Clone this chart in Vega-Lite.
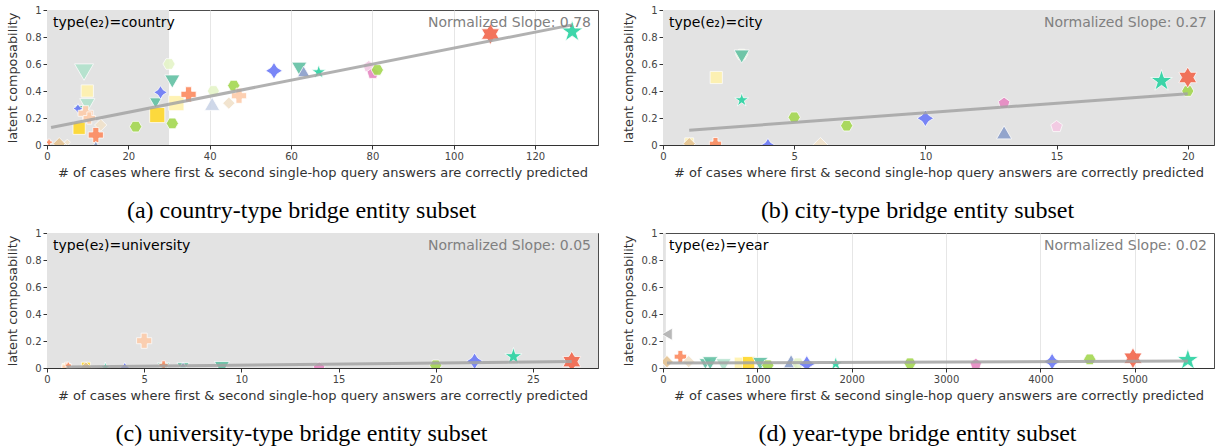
{
  "$schema": "https://vega.github.io/schema/vega-lite/v6.json",
  "padding": {"left": 5, "top": 4, "right": 2, "bottom": 0},
  "background": "white",
  "config": {
    "font": "DejaVu Sans",
    "view": {"stroke": "#4d4d4d", "strokeWidth": 1},
    "axis": {
      "labelFont": "DejaVu Sans", "labelFontSize": 10, "labelColor": "#444444",
      "titleFont": "DejaVu Sans", "titleFontSize": 13, "titleFontWeight": "normal", "titleColor": "#333333",
      "domainColor": "#333333", "tickColor": "#333333", "tickSize": 4, "labelPadding": 2,
      "gridColor": "#e6e6e6", "gridWidth": 1, "labelFlush": false, "labelOverlap": false
    },
    "axisX": {"titlePadding": 5},
    "axisY": {"titlePadding": 6, "titleFontSize": 12.8},
    "title": {"font": "Liberation Serif", "fontSize": 24, "fontWeight": "normal", "color": "#000000", "orient": "bottom", "anchor": "middle", "dx": -21, "offset": 20}
  },
  "datasets": {
    "pts": [
      {"panel": "a", "x": 0.5, "y": 0.02, "fam": "plus", "tier": 1},
      {"panel": "a", "x": 3, "y": 0.01, "fam": "dia", "tier": 3},
      {"panel": "a", "x": 5, "y": 0.02, "fam": "diaP", "tier": 1},
      {"panel": "a", "x": 9.1, "y": 0.54, "fam": "tdnP", "tier": 5},
      {"panel": "a", "x": 9.9, "y": 0.40, "fam": "sqP", "tier": 3},
      {"panel": "a", "x": 9.9, "y": 0.295, "fam": "tdnP", "tier": 4},
      {"panel": "a", "x": 7.9, "y": 0.264, "fam": "tdn", "tier": 2},
      {"panel": "a", "x": 7.6, "y": 0.27, "fam": "bstar", "tier": 2},
      {"panel": "a", "x": 9.5, "y": 0.235, "fam": "plusP", "tier": 4},
      {"panel": "a", "x": 10.4, "y": 0.2, "fam": "plusP", "tier": 3},
      {"panel": "a", "x": 13.2, "y": 0.148, "fam": "diaP", "tier": 3},
      {"panel": "a", "x": 7.9, "y": 0.124, "fam": "sq", "tier": 3},
      {"panel": "a", "x": 12, "y": 0.074, "fam": "plus", "tier": 4},
      {"panel": "a", "x": 12, "y": 0.0, "fam": "tup", "tier": 2},
      {"panel": "a", "x": 21.8, "y": 0.136, "fam": "hex", "tier": 3},
      {"panel": "a", "x": 26.7, "y": 0.31, "fam": "tdn", "tier": 3},
      {"panel": "a", "x": 27.1, "y": 0.222, "fam": "sq", "tier": 4},
      {"panel": "a", "x": 27.9, "y": 0.39, "fam": "bstar", "tier": 3},
      {"panel": "a", "x": 30, "y": 0.6, "fam": "hexP", "tier": 3},
      {"panel": "a", "x": 30.8, "y": 0.47, "fam": "tdn", "tier": 4},
      {"panel": "a", "x": 30.8, "y": 0.16, "fam": "hex", "tier": 3},
      {"panel": "a", "x": 31.8, "y": 0.31, "fam": "sqP", "tier": 4},
      {"panel": "a", "x": 34.8, "y": 0.375, "fam": "plus", "tier": 4},
      {"panel": "a", "x": 40.9, "y": 0.40, "fam": "hexP", "tier": 3},
      {"panel": "a", "x": 40.6, "y": 0.305, "fam": "tupP", "tier": 4},
      {"panel": "a", "x": 45.9, "y": 0.44, "fam": "hex", "tier": 3},
      {"panel": "a", "x": 44.7, "y": 0.31, "fam": "diaP", "tier": 3},
      {"panel": "a", "x": 47.2, "y": 0.365, "fam": "plusP", "tier": 4},
      {"panel": "a", "x": 55.8, "y": 0.55, "fam": "bstar", "tier": 4},
      {"panel": "a", "x": 62, "y": 0.565, "fam": "tdn", "tier": 4},
      {"panel": "a", "x": 63.1, "y": 0.545, "fam": "tup", "tier": 3},
      {"panel": "a", "x": 66.8, "y": 0.54, "fam": "tstar", "tier": 3},
      {"panel": "a", "x": 79.1, "y": 0.58, "fam": "pentP", "tier": 3},
      {"panel": "a", "x": 80.1, "y": 0.53, "fam": "pent", "tier": 3},
      {"panel": "a", "x": 81.2, "y": 0.556, "fam": "hex", "tier": 3},
      {"panel": "a", "x": 109, "y": 0.822, "fam": "rstar", "tier": 5},
      {"panel": "a", "x": 129.1, "y": 0.84, "fam": "tstar", "tier": 5},

      {"panel": "b", "x": 1, "y": 0.02, "fam": "sqP", "tier": 2},
      {"panel": "b", "x": 1, "y": 0.01, "fam": "dia", "tier": 3},
      {"panel": "b", "x": 2, "y": 0.0, "fam": "tdnP", "tier": 2},
      {"panel": "b", "x": 2, "y": 0.01, "fam": "plus", "tier": 3},
      {"panel": "b", "x": 3, "y": 0.67, "fam": "hexP", "tier": 3},
      {"panel": "b", "x": 3, "y": 0.655, "fam": "tdn", "tier": 4},
      {"panel": "b", "x": 2.03, "y": 0.50, "fam": "sqP", "tier": 3},
      {"panel": "b", "x": 3, "y": 0.333, "fam": "tstar", "tier": 3},
      {"panel": "b", "x": 4, "y": 0.0, "fam": "bstar", "tier": 3},
      {"panel": "b", "x": 5, "y": 0.205, "fam": "hex", "tier": 3},
      {"panel": "b", "x": 6, "y": 0.0, "fam": "diaP", "tier": 4},
      {"panel": "b", "x": 7, "y": 0.143, "fam": "hex", "tier": 3},
      {"panel": "b", "x": 10, "y": 0.198, "fam": "bstar", "tier": 4},
      {"panel": "b", "x": 13, "y": 0.309, "fam": "pent", "tier": 3},
      {"panel": "b", "x": 13, "y": 0.094, "fam": "tup", "tier": 4},
      {"panel": "b", "x": 15, "y": 0.136, "fam": "pentP", "tier": 3},
      {"panel": "b", "x": 19, "y": 0.474, "fam": "tstar", "tier": 5},
      {"panel": "b", "x": 20, "y": 0.40, "fam": "hex", "tier": 3},
      {"panel": "b", "x": 20, "y": 0.50, "fam": "rstar", "tier": 5},

      {"panel": "c", "x": 1, "y": 0.0, "fam": "sqP", "tier": 2},
      {"panel": "c", "x": 1, "y": 0.01, "fam": "plusP", "tier": 2},
      {"panel": "c", "x": 1.1, "y": 0.02, "fam": "plus", "tier": 1},
      {"panel": "c", "x": 2, "y": 0.01, "fam": "sq", "tier": 2},
      {"panel": "c", "x": 2, "y": 0.0, "fam": "dia", "tier": 3},
      {"panel": "c", "x": 3, "y": 0.005, "fam": "tstar", "tier": 2},
      {"panel": "c", "x": 4, "y": 0.005, "fam": "bstar", "tier": 2},
      {"panel": "c", "x": 5, "y": 0.202, "fam": "plusP", "tier": 4},
      {"panel": "c", "x": 6, "y": 0.0, "fam": "tdn", "tier": 3},
      {"panel": "c", "x": 6, "y": 0.02, "fam": "plus", "tier": 2},
      {"panel": "c", "x": 7, "y": 0.0, "fam": "tdn", "tier": 3},
      {"panel": "c", "x": 7, "y": 0.025, "fam": "tup", "tier": 1},
      {"panel": "c", "x": 9, "y": 0.0, "fam": "tdn", "tier": 4},
      {"panel": "c", "x": 14, "y": 0.0, "fam": "pent", "tier": 3},
      {"panel": "c", "x": 20, "y": 0.02, "fam": "hex", "tier": 3},
      {"panel": "c", "x": 22, "y": 0.05, "fam": "bstar", "tier": 4},
      {"panel": "c", "x": 24, "y": 0.085, "fam": "tstar", "tier": 4},
      {"panel": "c", "x": 27, "y": 0.047, "fam": "rstar", "tier": 5},

      {"panel": "d", "x": 42, "y": 0.25, "fam": "gray", "tier": 3},
      {"panel": "d", "x": 42, "y": 0.047, "fam": "dia", "tier": 3},
      {"panel": "d", "x": 184, "y": 0.084, "fam": "plus", "tier": 3},
      {"panel": "d", "x": 272, "y": 0.047, "fam": "diaP", "tier": 3},
      {"panel": "d", "x": 449, "y": 0.03, "fam": "tdn", "tier": 3},
      {"panel": "d", "x": 500, "y": 0.035, "fam": "tdn", "tier": 4},
      {"panel": "d", "x": 642, "y": 0.02, "fam": "tdnP", "tier": 4},
      {"panel": "d", "x": 820, "y": 0.035, "fam": "sqP", "tier": 3},
      {"panel": "d", "x": 907, "y": 0.04, "fam": "sq", "tier": 3},
      {"panel": "d", "x": 1031, "y": 0.03, "fam": "tdn", "tier": 4},
      {"panel": "d", "x": 1111, "y": 0.02, "fam": "hex", "tier": 3},
      {"panel": "d", "x": 1358, "y": 0.05, "fam": "tup", "tier": 4},
      {"panel": "d", "x": 1430, "y": 0.035, "fam": "hexP", "tier": 3},
      {"panel": "d", "x": 1524, "y": 0.03, "fam": "bstar", "tier": 4},
      {"panel": "d", "x": 1831, "y": 0.03, "fam": "tstar", "tier": 3},
      {"panel": "d", "x": 2618, "y": 0.035, "fam": "hex", "tier": 3},
      {"panel": "d", "x": 3316, "y": 0.027, "fam": "pent", "tier": 3},
      {"panel": "d", "x": 4124, "y": 0.047, "fam": "bstar", "tier": 4},
      {"panel": "d", "x": 4523, "y": 0.064, "fam": "hex", "tier": 3},
      {"panel": "d", "x": 4981, "y": 0.072, "fam": "rstar", "tier": 5},
      {"panel": "d", "x": 5563, "y": 0.059, "fam": "tstar", "tier": 5}
    ],
    "fit": [
      {"panel": "a", "x": 1, "y": 0.13},
      {"panel": "a", "x": 129.1, "y": 0.89},
      {"panel": "b", "x": 1, "y": 0.11},
      {"panel": "b", "x": 20, "y": 0.38},
      {"panel": "c", "x": 1, "y": 0.008},
      {"panel": "c", "x": 27, "y": 0.048},
      {"panel": "d", "x": 42, "y": 0.037},
      {"panel": "d", "x": 5563, "y": 0.052}
    ],
    "shade": [{"x": 0, "x2": 30}],
    "labels": [
      {"panel": "a", "left": "type(e₂)=country", "right": "Normalized Slope: 0.78"},
      {"panel": "b", "left": "type(e₂)=city", "right": "Normalized Slope: 0.27"},
      {"panel": "c", "left": "type(e₂)=university", "right": "Normalized Slope: 0.05"},
      {"panel": "d", "left": "type(e₂)=year", "right": "Normalized Slope: 0.02"}
    ]
  },
  "columns": 2,
  "bounds": "flush",
  "spacing": {"row": 88, "column": 65},
  "concat": [
    {
      "width": 551, "height": 135,
      "title": {"text": "(a) country-type bridge entity subset"},
      "layer": [
        {"data": {"name": "shade"}, "mark": {"type": "rect", "color": "#e3e3e3", "clip": true},
         "encoding": {
           "x": {"field": "x", "type": "quantitative", "scale": {"domain": [0, 135.45], "nice": false, "zero": false}, "axis": {"title": "# of cases where first & second single-hop query answers are correctly predicted", "values": [0, 20, 40, 60, 80, 100, 120], "format": "d", "labelOverlap": false}},
           "x2": {"field": "x2"},
           "y": {"datum": 0, "type": "quantitative", "scale": {"domain": [0, 1], "nice": false}, "axis": {"title": "latent composability", "values": [0, 0.2, 0.4, 0.6, 0.8, 1], "format": "~g", "labelOverlap": false, "tickCount": 6}},
           "y2": {"datum": 1}
         }},
        {"data": {"name": "pts"}, "transform": [{"filter": "datum.panel === 'a'"}],
         "mark": {"type": "point", "filled": true, "stroke": "white", "strokeWidth": 0.8, "opacity": 0.92, "clip": true},
         "encoding": {
           "x": {"field": "x", "type": "quantitative", "scale": {"domain": [0, 135.45], "nice": false, "zero": false}, "axis": {"title": "# of cases where first & second single-hop query answers are correctly predicted", "values": [0, 20, 40, 60, 80, 100, 120], "format": "d", "labelOverlap": false}},
           "y": {"field": "y", "type": "quantitative", "scale": {"domain": [0, 1], "nice": false}, "axis": {"title": "latent composability", "values": [0, 0.2, 0.4, 0.6, 0.8, 1], "format": "~g", "labelOverlap": false, "tickCount": 6}},
           "color": {"field": "fam", "type": "nominal", "legend": null, "scale": {"domain": ["tstar","rstar","bstar","hex","hexP","tdn","tdnP","plus","plusP","tup","tupP","pent","pentP","sq","sqP","dia","diaP","gray"], "range": ["#2ed3a3","#f2694f","#6e7cf7","#a6d854","#e6f5c9","#66c2a5","#b3e2cd","#fc8d62","#fdcdac","#8da0cb","#cbd5e8","#e78ac3","#f4cae4","#ffd92f","#fff2ae","#e5c494","#f1e2cc","#b3b3b3"]}},
           "shape": {"field": "fam", "type": "nominal", "legend": null, "scale": {"domain": ["tstar","rstar","bstar","hex","hexP","tdn","tdnP","plus","plusP","tup","tupP","pent","pentP","sq","sqP","dia","diaP","gray"], "range": ["M0,-1.2L0.2694,-0.3708L1.1412,-0.3708L0.4356,0.1416L0.7056,0.9708L0,0.4584L-0.7056,0.9708L-0.4356,0.1416L-1.1412,-0.3708L-0.2694,-0.3708Z","M0,-1.1L0.3176,-0.55L0.9526,-0.55L0.6347,0L0.9526,0.55L0.3176,0.55L0,1.1L-0.3176,0.55L-0.9526,0.55L-0.6347,0L-0.9526,-0.55L-0.3176,-0.55Z","M0,-1.1L0.42,-0.42L1.1,0L0.42,0.42L0,1.1L-0.42,0.42L-1.1,0L-0.42,-0.42Z","M-1,0L-0.5,-0.866L0.5,-0.866L1,0L0.5,0.866L-0.5,0.866Z","M-1,0L-0.5,-0.866L0.5,-0.866L1,0L0.5,0.866L-0.5,0.866Z","triangle-down","triangle-down","cross","cross","triangle-up","triangle-up","M0,-1L0.951,-0.309L0.588,0.809L-0.588,0.809L-0.951,-0.309Z","M0,-1L0.951,-0.309L0.588,0.809L-0.588,0.809L-0.951,-0.309Z","square","square","diamond","diamond","triangle-left"]}},
           "size": {"field": "tier", "type": "quantitative", "legend": null, "scale": {"type": "linear", "domain": [1, 2, 3, 4, 5], "range": [40, 80, 150, 230, 360], "zero": false, "nice": false}}
         }},
        {"data": {"name": "fit"}, "transform": [{"filter": "datum.panel === 'a'"}], "mark": {"type": "line", "color": "#a3a3a3", "strokeWidth": 3, "opacity": 0.85},
         "encoding": {
           "x": {"field": "x", "type": "quantitative", "scale": {"domain": [0, 135.45], "nice": false, "zero": false}, "axis": {"title": "# of cases where first & second single-hop query answers are correctly predicted", "values": [0, 20, 40, 60, 80, 100, 120], "format": "d", "labelOverlap": false}},
           "y": {"field": "y", "type": "quantitative", "scale": {"domain": [0, 1], "nice": false}, "axis": {"title": "latent composability", "values": [0, 0.2, 0.4, 0.6, 0.8, 1], "format": "~g", "labelOverlap": false, "tickCount": 6}}
         }},
        {"data": {"name": "labels"}, "transform": [{"filter": "datum.panel === 'a'"}], "mark": {"type": "text", "align": "left", "baseline": "top", "dx": 6, "dy": 6, "fontSize": 14, "color": "#000000"},
         "encoding": {"x": {"datum": 0, "type": "quantitative", "axis": {"title": "# of cases where first & second single-hop query answers are correctly predicted", "values": [0, 20, 40, 60, 80, 100, 120], "format": "d", "labelOverlap": false}}, "y": {"datum": 1, "type": "quantitative", "axis": {"title": "latent composability", "values": [0, 0.2, 0.4, 0.6, 0.8, 1], "format": "~g", "labelOverlap": false, "tickCount": 6}}, "text": {"field": "left"}}},
        {"data": {"name": "labels"}, "transform": [{"filter": "datum.panel === 'a'"}], "mark": {"type": "text", "align": "right", "baseline": "top", "dx": -7, "dy": 6, "fontSize": 14, "color": "#808080"},
         "encoding": {"x": {"datum": 135.45, "type": "quantitative", "axis": {"title": "# of cases where first & second single-hop query answers are correctly predicted", "values": [0, 20, 40, 60, 80, 100, 120], "format": "d", "labelOverlap": false}}, "y": {"datum": 1, "type": "quantitative", "axis": {"title": "latent composability", "values": [0, 0.2, 0.4, 0.6, 0.8, 1], "format": "~g", "labelOverlap": false, "tickCount": 6}}, "text": {"field": "right"}}}
      ]
    },
    {
      "width": 551, "height": 135,
      "title": {"text": "(b) city-type bridge entity subset"},
      "layer": [
        {"data": {"name": "shade"}, "mark": {"type": "rect", "color": "#e3e3e3", "clip": true},
         "encoding": {
           "x": {"field": "x", "type": "quantitative", "scale": {"domain": [0, 21], "nice": false, "zero": false}, "axis": {"title": "# of cases where first & second single-hop query answers are correctly predicted", "values": [0, 5, 10, 15, 20], "format": "d", "labelOverlap": false}},
           "x2": {"field": "x2"},
           "y": {"datum": 0, "type": "quantitative", "scale": {"domain": [0, 1], "nice": false}, "axis": {"title": "latent composability", "values": [0, 0.2, 0.4, 0.6, 0.8, 1], "format": "~g", "labelOverlap": false, "tickCount": 6}},
           "y2": {"datum": 1}
         }},
        {"data": {"name": "pts"}, "transform": [{"filter": "datum.panel === 'b'"}],
         "mark": {"type": "point", "filled": true, "stroke": "white", "strokeWidth": 0.8, "opacity": 0.92, "clip": true},
         "encoding": {
           "x": {"field": "x", "type": "quantitative", "scale": {"domain": [0, 21], "nice": false, "zero": false}, "axis": {"title": "# of cases where first & second single-hop query answers are correctly predicted", "values": [0, 5, 10, 15, 20], "format": "d", "labelOverlap": false}},
           "y": {"field": "y", "type": "quantitative", "scale": {"domain": [0, 1], "nice": false}, "axis": {"title": "latent composability", "values": [0, 0.2, 0.4, 0.6, 0.8, 1], "format": "~g", "labelOverlap": false, "tickCount": 6}},
           "color": {"field": "fam", "type": "nominal", "legend": null, "scale": {"domain": ["tstar","rstar","bstar","hex","hexP","tdn","tdnP","plus","plusP","tup","tupP","pent","pentP","sq","sqP","dia","diaP","gray"], "range": ["#2ed3a3","#f2694f","#6e7cf7","#a6d854","#e6f5c9","#66c2a5","#b3e2cd","#fc8d62","#fdcdac","#8da0cb","#cbd5e8","#e78ac3","#f4cae4","#ffd92f","#fff2ae","#e5c494","#f1e2cc","#b3b3b3"]}},
           "shape": {"field": "fam", "type": "nominal", "legend": null, "scale": {"domain": ["tstar","rstar","bstar","hex","hexP","tdn","tdnP","plus","plusP","tup","tupP","pent","pentP","sq","sqP","dia","diaP","gray"], "range": ["M0,-1.2L0.2694,-0.3708L1.1412,-0.3708L0.4356,0.1416L0.7056,0.9708L0,0.4584L-0.7056,0.9708L-0.4356,0.1416L-1.1412,-0.3708L-0.2694,-0.3708Z","M0,-1.1L0.3176,-0.55L0.9526,-0.55L0.6347,0L0.9526,0.55L0.3176,0.55L0,1.1L-0.3176,0.55L-0.9526,0.55L-0.6347,0L-0.9526,-0.55L-0.3176,-0.55Z","M0,-1.1L0.42,-0.42L1.1,0L0.42,0.42L0,1.1L-0.42,0.42L-1.1,0L-0.42,-0.42Z","M-1,0L-0.5,-0.866L0.5,-0.866L1,0L0.5,0.866L-0.5,0.866Z","M-1,0L-0.5,-0.866L0.5,-0.866L1,0L0.5,0.866L-0.5,0.866Z","triangle-down","triangle-down","cross","cross","triangle-up","triangle-up","M0,-1L0.951,-0.309L0.588,0.809L-0.588,0.809L-0.951,-0.309Z","M0,-1L0.951,-0.309L0.588,0.809L-0.588,0.809L-0.951,-0.309Z","square","square","diamond","diamond","triangle-left"]}},
           "size": {"field": "tier", "type": "quantitative", "legend": null, "scale": {"type": "linear", "domain": [1, 2, 3, 4, 5], "range": [40, 80, 150, 230, 360], "zero": false, "nice": false}}
         }},
        {"data": {"name": "fit"}, "transform": [{"filter": "datum.panel === 'b'"}], "mark": {"type": "line", "color": "#a3a3a3", "strokeWidth": 3, "opacity": 0.85},
         "encoding": {
           "x": {"field": "x", "type": "quantitative", "scale": {"domain": [0, 21], "nice": false, "zero": false}, "axis": {"title": "# of cases where first & second single-hop query answers are correctly predicted", "values": [0, 5, 10, 15, 20], "format": "d", "labelOverlap": false}},
           "y": {"field": "y", "type": "quantitative", "scale": {"domain": [0, 1], "nice": false}, "axis": {"title": "latent composability", "values": [0, 0.2, 0.4, 0.6, 0.8, 1], "format": "~g", "labelOverlap": false, "tickCount": 6}}
         }},
        {"data": {"name": "labels"}, "transform": [{"filter": "datum.panel === 'b'"}], "mark": {"type": "text", "align": "left", "baseline": "top", "dx": 6, "dy": 6, "fontSize": 14, "color": "#000000"},
         "encoding": {"x": {"datum": 0, "type": "quantitative", "axis": {"title": "# of cases where first & second single-hop query answers are correctly predicted", "values": [0, 5, 10, 15, 20], "format": "d", "labelOverlap": false}}, "y": {"datum": 1, "type": "quantitative", "axis": {"title": "latent composability", "values": [0, 0.2, 0.4, 0.6, 0.8, 1], "format": "~g", "labelOverlap": false, "tickCount": 6}}, "text": {"field": "left"}}},
        {"data": {"name": "labels"}, "transform": [{"filter": "datum.panel === 'b'"}], "mark": {"type": "text", "align": "right", "baseline": "top", "dx": -7, "dy": 6, "fontSize": 14, "color": "#808080"},
         "encoding": {"x": {"datum": 21, "type": "quantitative", "axis": {"title": "# of cases where first & second single-hop query answers are correctly predicted", "values": [0, 5, 10, 15, 20], "format": "d", "labelOverlap": false}}, "y": {"datum": 1, "type": "quantitative", "axis": {"title": "latent composability", "values": [0, 0.2, 0.4, 0.6, 0.8, 1], "format": "~g", "labelOverlap": false, "tickCount": 6}}, "text": {"field": "right"}}}
      ]
    },
    {
      "width": 551, "height": 135,
      "title": {"text": "(c) university-type bridge entity subset"},
      "layer": [
        {"data": {"name": "shade"}, "mark": {"type": "rect", "color": "#e3e3e3", "clip": true},
         "encoding": {
           "x": {"field": "x", "type": "quantitative", "scale": {"domain": [0, 28.35], "nice": false, "zero": false}, "axis": {"title": "# of cases where first & second single-hop query answers are correctly predicted", "values": [0, 5, 10, 15, 20, 25], "format": "d", "labelOverlap": false}},
           "x2": {"field": "x2"},
           "y": {"datum": 0, "type": "quantitative", "scale": {"domain": [0, 1], "nice": false}, "axis": {"title": "latent composability", "values": [0, 0.2, 0.4, 0.6, 0.8, 1], "format": "~g", "labelOverlap": false, "tickCount": 6}},
           "y2": {"datum": 1}
         }},
        {"data": {"name": "pts"}, "transform": [{"filter": "datum.panel === 'c'"}],
         "mark": {"type": "point", "filled": true, "stroke": "white", "strokeWidth": 0.8, "opacity": 0.92, "clip": true},
         "encoding": {
           "x": {"field": "x", "type": "quantitative", "scale": {"domain": [0, 28.35], "nice": false, "zero": false}, "axis": {"title": "# of cases where first & second single-hop query answers are correctly predicted", "values": [0, 5, 10, 15, 20, 25], "format": "d", "labelOverlap": false}},
           "y": {"field": "y", "type": "quantitative", "scale": {"domain": [0, 1], "nice": false}, "axis": {"title": "latent composability", "values": [0, 0.2, 0.4, 0.6, 0.8, 1], "format": "~g", "labelOverlap": false, "tickCount": 6}},
           "color": {"field": "fam", "type": "nominal", "legend": null, "scale": {"domain": ["tstar","rstar","bstar","hex","hexP","tdn","tdnP","plus","plusP","tup","tupP","pent","pentP","sq","sqP","dia","diaP","gray"], "range": ["#2ed3a3","#f2694f","#6e7cf7","#a6d854","#e6f5c9","#66c2a5","#b3e2cd","#fc8d62","#fdcdac","#8da0cb","#cbd5e8","#e78ac3","#f4cae4","#ffd92f","#fff2ae","#e5c494","#f1e2cc","#b3b3b3"]}},
           "shape": {"field": "fam", "type": "nominal", "legend": null, "scale": {"domain": ["tstar","rstar","bstar","hex","hexP","tdn","tdnP","plus","plusP","tup","tupP","pent","pentP","sq","sqP","dia","diaP","gray"], "range": ["M0,-1.2L0.2694,-0.3708L1.1412,-0.3708L0.4356,0.1416L0.7056,0.9708L0,0.4584L-0.7056,0.9708L-0.4356,0.1416L-1.1412,-0.3708L-0.2694,-0.3708Z","M0,-1.1L0.3176,-0.55L0.9526,-0.55L0.6347,0L0.9526,0.55L0.3176,0.55L0,1.1L-0.3176,0.55L-0.9526,0.55L-0.6347,0L-0.9526,-0.55L-0.3176,-0.55Z","M0,-1.1L0.42,-0.42L1.1,0L0.42,0.42L0,1.1L-0.42,0.42L-1.1,0L-0.42,-0.42Z","M-1,0L-0.5,-0.866L0.5,-0.866L1,0L0.5,0.866L-0.5,0.866Z","M-1,0L-0.5,-0.866L0.5,-0.866L1,0L0.5,0.866L-0.5,0.866Z","triangle-down","triangle-down","cross","cross","triangle-up","triangle-up","M0,-1L0.951,-0.309L0.588,0.809L-0.588,0.809L-0.951,-0.309Z","M0,-1L0.951,-0.309L0.588,0.809L-0.588,0.809L-0.951,-0.309Z","square","square","diamond","diamond","triangle-left"]}},
           "size": {"field": "tier", "type": "quantitative", "legend": null, "scale": {"type": "linear", "domain": [1, 2, 3, 4, 5], "range": [40, 80, 150, 230, 360], "zero": false, "nice": false}}
         }},
        {"data": {"name": "fit"}, "transform": [{"filter": "datum.panel === 'c'"}], "mark": {"type": "line", "color": "#a3a3a3", "strokeWidth": 3, "opacity": 0.85},
         "encoding": {
           "x": {"field": "x", "type": "quantitative", "scale": {"domain": [0, 28.35], "nice": false, "zero": false}, "axis": {"title": "# of cases where first & second single-hop query answers are correctly predicted", "values": [0, 5, 10, 15, 20, 25], "format": "d", "labelOverlap": false}},
           "y": {"field": "y", "type": "quantitative", "scale": {"domain": [0, 1], "nice": false}, "axis": {"title": "latent composability", "values": [0, 0.2, 0.4, 0.6, 0.8, 1], "format": "~g", "labelOverlap": false, "tickCount": 6}}
         }},
        {"data": {"name": "labels"}, "transform": [{"filter": "datum.panel === 'c'"}], "mark": {"type": "text", "align": "left", "baseline": "top", "dx": 6, "dy": 6, "fontSize": 14, "color": "#000000"},
         "encoding": {"x": {"datum": 0, "type": "quantitative", "axis": {"title": "# of cases where first & second single-hop query answers are correctly predicted", "values": [0, 5, 10, 15, 20, 25], "format": "d", "labelOverlap": false}}, "y": {"datum": 1, "type": "quantitative", "axis": {"title": "latent composability", "values": [0, 0.2, 0.4, 0.6, 0.8, 1], "format": "~g", "labelOverlap": false, "tickCount": 6}}, "text": {"field": "left"}}},
        {"data": {"name": "labels"}, "transform": [{"filter": "datum.panel === 'c'"}], "mark": {"type": "text", "align": "right", "baseline": "top", "dx": -7, "dy": 6, "fontSize": 14, "color": "#808080"},
         "encoding": {"x": {"datum": 28.35, "type": "quantitative", "axis": {"title": "# of cases where first & second single-hop query answers are correctly predicted", "values": [0, 5, 10, 15, 20, 25], "format": "d", "labelOverlap": false}}, "y": {"datum": 1, "type": "quantitative", "axis": {"title": "latent composability", "values": [0, 0.2, 0.4, 0.6, 0.8, 1], "format": "~g", "labelOverlap": false, "tickCount": 6}}, "text": {"field": "right"}}}
      ]
    },
    {
      "width": 551, "height": 135,
      "title": {"text": "(d) year-type bridge entity subset"},
      "layer": [
        {"data": {"name": "shade"}, "mark": {"type": "rect", "color": "#e3e3e3", "clip": true},
         "encoding": {
           "x": {"field": "x", "type": "quantitative", "scale": {"domain": [0, 5840], "nice": false, "zero": false}, "axis": {"title": "# of cases where first & second single-hop query answers are correctly predicted", "values": [0, 1000, 2000, 3000, 4000, 5000], "format": "d", "labelOverlap": false}},
           "x2": {"field": "x2"},
           "y": {"datum": 0, "type": "quantitative", "scale": {"domain": [0, 1], "nice": false}, "axis": {"title": "latent composability", "values": [0, 0.2, 0.4, 0.6, 0.8, 1], "format": "~g", "labelOverlap": false, "tickCount": 6}},
           "y2": {"datum": 1}
         }},
        {"data": {"name": "pts"}, "transform": [{"filter": "datum.panel === 'd'"}],
         "mark": {"type": "point", "filled": true, "stroke": "white", "strokeWidth": 0.8, "opacity": 0.92, "clip": true},
         "encoding": {
           "x": {"field": "x", "type": "quantitative", "scale": {"domain": [0, 5840], "nice": false, "zero": false}, "axis": {"title": "# of cases where first & second single-hop query answers are correctly predicted", "values": [0, 1000, 2000, 3000, 4000, 5000], "format": "d", "labelOverlap": false}},
           "y": {"field": "y", "type": "quantitative", "scale": {"domain": [0, 1], "nice": false}, "axis": {"title": "latent composability", "values": [0, 0.2, 0.4, 0.6, 0.8, 1], "format": "~g", "labelOverlap": false, "tickCount": 6}},
           "color": {"field": "fam", "type": "nominal", "legend": null, "scale": {"domain": ["tstar","rstar","bstar","hex","hexP","tdn","tdnP","plus","plusP","tup","tupP","pent","pentP","sq","sqP","dia","diaP","gray"], "range": ["#2ed3a3","#f2694f","#6e7cf7","#a6d854","#e6f5c9","#66c2a5","#b3e2cd","#fc8d62","#fdcdac","#8da0cb","#cbd5e8","#e78ac3","#f4cae4","#ffd92f","#fff2ae","#e5c494","#f1e2cc","#b3b3b3"]}},
           "shape": {"field": "fam", "type": "nominal", "legend": null, "scale": {"domain": ["tstar","rstar","bstar","hex","hexP","tdn","tdnP","plus","plusP","tup","tupP","pent","pentP","sq","sqP","dia","diaP","gray"], "range": ["M0,-1.2L0.2694,-0.3708L1.1412,-0.3708L0.4356,0.1416L0.7056,0.9708L0,0.4584L-0.7056,0.9708L-0.4356,0.1416L-1.1412,-0.3708L-0.2694,-0.3708Z","M0,-1.1L0.3176,-0.55L0.9526,-0.55L0.6347,0L0.9526,0.55L0.3176,0.55L0,1.1L-0.3176,0.55L-0.9526,0.55L-0.6347,0L-0.9526,-0.55L-0.3176,-0.55Z","M0,-1.1L0.42,-0.42L1.1,0L0.42,0.42L0,1.1L-0.42,0.42L-1.1,0L-0.42,-0.42Z","M-1,0L-0.5,-0.866L0.5,-0.866L1,0L0.5,0.866L-0.5,0.866Z","M-1,0L-0.5,-0.866L0.5,-0.866L1,0L0.5,0.866L-0.5,0.866Z","triangle-down","triangle-down","cross","cross","triangle-up","triangle-up","M0,-1L0.951,-0.309L0.588,0.809L-0.588,0.809L-0.951,-0.309Z","M0,-1L0.951,-0.309L0.588,0.809L-0.588,0.809L-0.951,-0.309Z","square","square","diamond","diamond","triangle-left"]}},
           "size": {"field": "tier", "type": "quantitative", "legend": null, "scale": {"type": "linear", "domain": [1, 2, 3, 4, 5], "range": [40, 80, 150, 230, 360], "zero": false, "nice": false}}
         }},
        {"data": {"name": "fit"}, "transform": [{"filter": "datum.panel === 'd'"}], "mark": {"type": "line", "color": "#a3a3a3", "strokeWidth": 3, "opacity": 0.85},
         "encoding": {
           "x": {"field": "x", "type": "quantitative", "scale": {"domain": [0, 5840], "nice": false, "zero": false}, "axis": {"title": "# of cases where first & second single-hop query answers are correctly predicted", "values": [0, 1000, 2000, 3000, 4000, 5000], "format": "d", "labelOverlap": false}},
           "y": {"field": "y", "type": "quantitative", "scale": {"domain": [0, 1], "nice": false}, "axis": {"title": "latent composability", "values": [0, 0.2, 0.4, 0.6, 0.8, 1], "format": "~g", "labelOverlap": false, "tickCount": 6}}
         }},
        {"data": {"name": "labels"}, "transform": [{"filter": "datum.panel === 'd'"}], "mark": {"type": "text", "align": "left", "baseline": "top", "dx": 6, "dy": 6, "fontSize": 14, "color": "#000000"},
         "encoding": {"x": {"datum": 0, "type": "quantitative", "axis": {"title": "# of cases where first & second single-hop query answers are correctly predicted", "values": [0, 1000, 2000, 3000, 4000, 5000], "format": "d", "labelOverlap": false}}, "y": {"datum": 1, "type": "quantitative", "axis": {"title": "latent composability", "values": [0, 0.2, 0.4, 0.6, 0.8, 1], "format": "~g", "labelOverlap": false, "tickCount": 6}}, "text": {"field": "left"}}},
        {"data": {"name": "labels"}, "transform": [{"filter": "datum.panel === 'd'"}], "mark": {"type": "text", "align": "right", "baseline": "top", "dx": -7, "dy": 6, "fontSize": 14, "color": "#808080"},
         "encoding": {"x": {"datum": 5840, "type": "quantitative", "axis": {"title": "# of cases where first & second single-hop query answers are correctly predicted", "values": [0, 1000, 2000, 3000, 4000, 5000], "format": "d", "labelOverlap": false}}, "y": {"datum": 1, "type": "quantitative", "axis": {"title": "latent composability", "values": [0, 0.2, 0.4, 0.6, 0.8, 1], "format": "~g", "labelOverlap": false, "tickCount": 6}}, "text": {"field": "right"}}}
      ]
    }
  ]
}
